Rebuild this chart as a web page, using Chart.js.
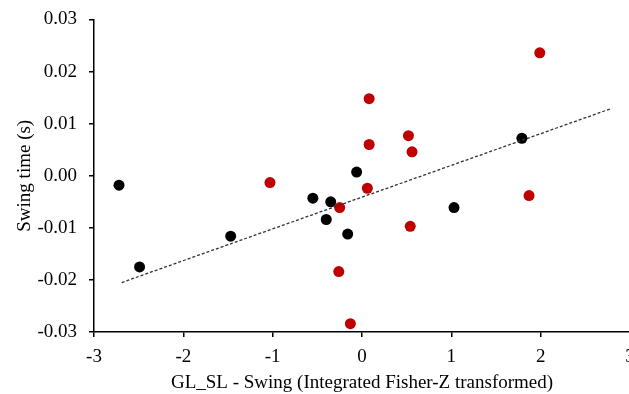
<!DOCTYPE html>
<html>
<head>
<meta charset="utf-8">
<script src="https://cdn.jsdelivr.net/npm/chart.js@4/dist/chart.umd.min.js"></script>
<style>
  html, body { margin: 0; padding: 0; background: #fff; overflow: hidden; }
  #wrap { width: 641px; height: 394px; position: relative; }
</style>
</head>
<body>
<div id="wrap"><canvas id="chart"></canvas></div>
<script>
'use strict';

// black group
const blackX = [-2.72, -2.49, -1.47, -0.55, -0.35, -0.40, -0.16, -0.06, 1.03, 1.79];
const blackY = [-0.0018, -0.0175, -0.0116, -0.0043, -0.0050, -0.0084, -0.0112, 0.0007, -0.0061, 0.0072];

// red group
const redX = [-1.03, 1.99, 0.08, 0.08, 0.52, 0.56, 0.06, 1.87, -0.25, 0.54, -0.26, -0.13];
const redY = [-0.0013, 0.0236, 0.0148, 0.0060, 0.0077, 0.0046, -0.0024, -0.0038, -0.0061, -0.0097, -0.0184, -0.0284];

// dashed fit line end points
const trendX = [-2.69, 2.79];
const trendY = [-0.0205, 0.0129];

const toPoints = (xs, ys) => xs.map((x, i) => ({ x, y: ys[i] }));

const serif = "'Liberation Serif', 'Times New Roman', serif";

new Chart(document.getElementById('chart'), {
    type: 'scatter',
    data: {
        datasets: [
            {
                label: 'fit',
                data: toPoints(trendX, trendY),
                showLine: true,
                borderColor: '#333',
                borderWidth: 1.3,
                borderDash: [3, 2],
                pointRadius: 0,
                fill: false,
            },
            {
                label: 'black',
                data: toPoints(blackX, blackY),
                backgroundColor: '#000',
                borderColor: '#000',
                pointRadius: 5.5,
                borderWidth: 0,
            },
            {
                label: 'red',
                data: toPoints(redX, redY),
                backgroundColor: '#c00000',
                borderColor: '#c00000',
                pointRadius: 5.5,
                borderWidth: 0,
            }
        ]
    },
    options: {
        responsive: true,
        maintainAspectRatio: false,
        animation: false,
        layout: { padding: { top: 19.5, right: 11, left: 6, bottom: 0 } },
        plugins: {
            legend: { display: false },
            tooltip: { enabled: false }
        },
        scales: {
            x: {
                type: 'linear',
                min: -3,
                max: 3,
                border: { display: true, color: '#000', width: 1.5 },
                grid: { display: true, drawOnChartArea: false, drawTicks: true, tickLength: 5, color: '#000', lineWidth: 1.5 },
                ticks: {
                    stepSize: 1,
                    color: '#000',
                    padding: 9,
                    font: { family: serif, size: 19 },
                    callback: v => String(Math.round(v))
                },
                title: {
                    display: true,
                    text: 'GL_SL - Swing (Integrated Fisher-Z transformed)',
                    color: '#000',
                    font: { family: serif, size: 19 },
                    padding: { top: 4, bottom: 0 }
                },
                afterFit: scale => {
                    scale.height = 62;
                    scale.paddingLeft = 0;
                    scale.paddingRight = 0;
                }
            },
            y: {
                type: 'linear',
                min: -0.03,
                max: 0.03,
                border: { display: true, color: '#000', width: 1.5 },
                grid: { display: true, drawOnChartArea: false, drawTicks: true, tickLength: 5, color: '#000', lineWidth: 1.5 },
                ticks: {
                    stepSize: 0.01,
                    color: '#000',
                    padding: 12,
                    font: { family: serif, size: 19 },
                    callback: v => (Math.abs(v) < 1e-9 ? 0 : v).toFixed(2)
                },
                title: {
                    display: true,
                    text: 'Swing time (s)',
                    color: '#000',
                    font: { family: serif, size: 19 },
                    padding: { top: 8, bottom: 8 }
                },
                afterFit: scale => {
                    scale.width = 88;
                    scale.paddingTop = 0;
                    scale.paddingBottom = 0;
                }
            }
        }
    }
});
</script>
</body>
</html>
